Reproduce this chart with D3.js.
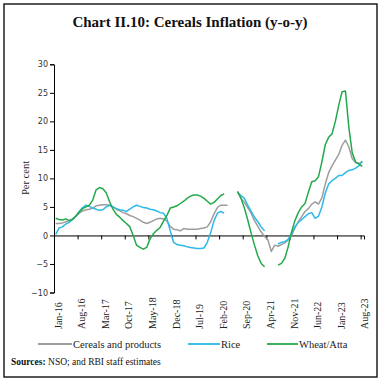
<!DOCTYPE html>
<html><head><meta charset="utf-8">
<script src="https://cdn.jsdelivr.net/npm/d3@7"></script>
<style>body{margin:0;background:#fff}svg{display:block}</style>
</head><body><svg id="c" width="382" height="382"></svg>
<script>
const tickLabels = ["Jan-16","Aug-16","Mar-17","Oct-17","May-18","Dec-18","Jul-19","Feb-20","Sep-20","Apr-21","Nov-21","Jun-22","Jan-23","Aug-23"];
const seriesNames = ["Cereals and products","Rice","Wheat/Atta"];
const cereals = [2.1,2.1,2.2,2.4,2.6,2.9,3.4,3.9,4.3,4.5,
4.6,4.8,5.2,5.3,5.4,5.4,5.3,5.0,4.6,4.3,
4.0,3.8,3.5,3.3,3.0,2.7,2.3,2.1,2.3,2.6,
2.9,3.0,2.9,2.5,1.6,1.1,1.0,0.8,1.2,1.1,
1.1,1.1,1.1,1.2,1.3,1.5,2.4,3.8,4.9,5.3,
5.3,5.3,null,null,7.7,6.5,5.8,4.9,3.9,2.6,
1.6,0.6,-0.2,-0.8,-2.8,-1.7,-1.9,-1.6,-1.3,-0.8,
0.0,1.3,2.4,3.3,4.2,4.7,5.5,5.9,5.5,6.6,
9.0,11.0,12.2,13.2,14.2,15.8,16.7,15.5,13.5,12.8,
12.6,13.0];
const rice = [0.2,1.3,1.5,2.0,2.3,2.8,3.4,4.2,4.9,5.3,
5.1,4.8,4.6,4.4,4.5,5.0,5.3,5.0,4.7,4.5,
4.4,4.2,4.6,5.0,5.3,5.1,4.9,4.8,4.6,4.5,
4.3,4.0,3.9,3.0,0.8,-1.2,-1.6,-1.7,-1.8,-2.0,
-2.1,-2.2,-2.3,-2.3,-2.2,-1.2,0.5,2.6,3.9,4.2,
3.9,null,null,null,7.5,7.0,6.5,5.3,4.2,3.2,
2.4,1.5,0.8,null,null,null,-1.5,-1.2,-1.1,-0.7,
0.3,1.5,2.3,2.8,3.3,3.8,4.0,3.0,3.4,5.0,
7.4,9.0,9.6,10.0,10.5,10.5,11.0,11.4,11.5,11.8,
12.2,13.0];
const wheat = [3.0,2.8,2.7,2.9,2.6,2.8,3.4,4.1,4.7,5.0,
5.3,6.2,8.0,8.4,8.2,7.5,5.9,4.6,3.7,3.2,
2.6,2.1,1.5,0.0,-1.7,-2.1,-2.4,-2.1,-0.6,0.3,
0.9,1.4,2.5,3.5,4.8,5.0,5.2,5.6,6.0,6.5,
6.9,7.1,7.1,6.9,6.5,6.0,5.5,5.8,6.4,7.0,
7.3,null,null,null,7.7,6.5,4.8,2.7,0.4,-1.7,
-3.6,-4.9,-5.5,null,null,null,-5.2,-4.9,-4.0,-2.0,
0.6,2.6,4.0,5.0,5.6,7.6,9.4,9.6,10.3,12.9,
15.9,17.2,17.8,20.0,22.8,25.2,25.3,19.0,14.5,12.9,
12.5,12.1];
const yTicks = [-10,-5,0,5,10,15,20,25,30];

const svg = d3.select("#c");
const n = cereals.length;
const x = d3.scaleLinear().domain([0, n]).range([54, 364]);
const y = d3.scaleLinear().domain([-10, 30]).range([292.5, 64.3]);
const colors = ["#9d9d9d", "#2cb8e8", "#23a94c"];

// frame
svg.append("rect").attr("x",4).attr("y",4).attr("width",373).attr("height",373)
  .attr("fill","none").attr("stroke","#111").attr("stroke-width",1.4);

// title
svg.append("text").attr("x",190).attr("y",27).attr("text-anchor","middle")
  .attr("font-family","Liberation Serif, serif").attr("font-weight","bold").attr("font-size",15)
  .attr("fill","#111").text("Chart II.10: Cereals Inflation (y-o-y)");

// y axis
const ya = svg.append("g").attr("transform","translate(54,0)")
  .call(d3.axisLeft(y).tickValues(yTicks).tickSize(4).tickPadding(2));
ya.select(".domain").attr("stroke","#000");
ya.selectAll(".tick line").attr("stroke","#000");
ya.selectAll(".tick text").attr("font-family","DejaVu Sans, sans-serif").attr("font-size",8).attr("fill","#333");

svg.append("text").attr("transform","translate(29,178) rotate(-90)").attr("text-anchor","middle")
  .attr("font-family","Liberation Serif, serif").attr("font-size",10.5).attr("fill","#222").text("Per cent");

// x axis at zero
const tickIdx = tickLabels.map((d,i)=>i*7);
const xa = svg.append("g").attr("transform",`translate(0,${y(0)})`)
  .call(d3.axisBottom(x).tickValues(tickIdx).tickSize(4).tickFormat(""));
xa.select(".domain").attr("stroke","#000");
xa.selectAll(".tick line").attr("stroke","#000");

// x labels at bottom
const xl = svg.append("g").attr("transform","translate(2,300)")
  .call(d3.axisBottom(x).tickValues(tickIdx.map(i=>i+0.5)).tickSize(0).tickFormat((d,i)=>tickLabels[i]));
xl.select(".domain").remove();
xl.selectAll(".tick text").attr("transform","rotate(-90)").attr("text-anchor","start")
  .attr("dy","0.35em").attr("y",0).attr("x",-29)
  .attr("font-family","Liberation Serif, serif").attr("font-size",10).attr("fill","#222");

// lines
const lineFor = arr => d3.line().defined(d=>d.v!=null).x(d=>x(d.i+0.5)).y(d=>y(d.v))(arr.map((v,i)=>({i,v})));
[cereals, rice, wheat].forEach((s,k)=>{
  svg.append("path").attr("d",lineFor(s)).attr("fill","none")
    .attr("stroke",colors[k]).attr("stroke-width",1.5).attr("stroke-linejoin","round");
});

// legend
const lg = [{x1:38,x2:72},{x1:188,x2:220},{x1:267,x2:298}];
seriesNames.forEach((nm,k)=>{
  svg.append("line").attr("x1",lg[k].x1).attr("x2",lg[k].x2).attr("y1",344).attr("y2",344)
    .attr("stroke",colors[k]).attr("stroke-width",1.8);
  svg.append("text").attr("x",lg[k].x2+1).attr("y",347.5).attr("font-family","Liberation Serif, serif")
    .attr("font-size",10.5).attr("fill","#222").text(nm);
});

// source
const src = svg.append("text").attr("x",11).attr("y",365).attr("font-family","Liberation Serif, serif")
  .attr("font-size",9.5).attr("fill","#111");
src.append("tspan").attr("font-weight","bold").text("Sources:");
src.append("tspan").text(" NSO; and RBI staff estimates");
</script></body></html>
